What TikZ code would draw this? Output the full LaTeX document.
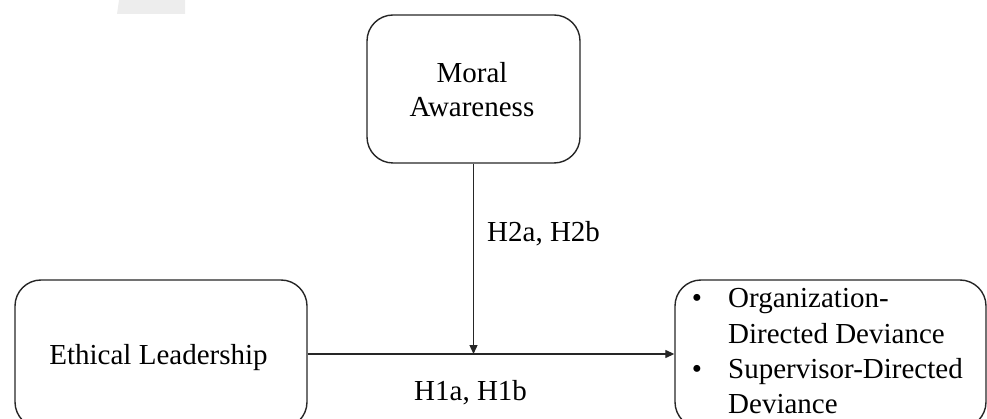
\documentclass[tikz,border=0pt]{standalone}
\usepackage{fontspec}
\setmainfont{Liberation Serif}
\usetikzlibrary{arrows.meta}
\begin{document}
\begin{tikzpicture}[x=1pt,y=-1pt,
  box/.style={draw=black!85,line width=1.4pt,rounded corners=26pt,rectangle,inner sep=0pt},
  lbl/.style={font=\fontsize{29}{34}\selectfont,inner sep=0pt},
  conn/.style={draw=black!85,line width=1.3pt,-{Triangle[length=9pt,width=8pt]}}]
\useasboundingbox (0,0) rectangle (987,419);
\fill[black!7] (119,0) -- (185,0) -- (185,14) -- (117,14) -- cycle;
% boxes
\node[box,minimum width=213pt,minimum height=148pt] (ma) at (473.5,89) {};
\node[box,minimum width=292pt,minimum height=148pt] (el) at (161,354) {};
\node[box,minimum width=311pt,minimum height=148pt] (od) at (830.5,354) {};
% texts
\node[lbl,anchor=base] (t1) at (472,83) {Moral};
\node[lbl,anchor=base] (t2) at (472,117) {Awareness};
\node[lbl,anchor=base] (t3) at (158.5,364) {Ethical Leadership};
\node[lbl,anchor=base] (b1) at (697,308) {•};
\node[lbl,anchor=base west] (o1) at (728,308) {Organization-};
\node[lbl,anchor=base west] (o2) at (728,343) {Directed Deviance};
\node[lbl,anchor=base] (b2) at (697,378) {•};
\node[lbl,anchor=base west] (o3) at (728,378) {Supervisor-Directed};
\node[lbl,anchor=base west] (o4) at (728,413) {Deviance};
\node[lbl,anchor=base west] (h2) at (487,242) {H2a, H2b};
\node[lbl,anchor=base west] (h1) at (414,400) {H1a, H1b};
% connectors
\coordinate (j) at (ma.south |- el.east);
\draw[conn] (el.east) -- (od.west);
\draw[conn] (ma.south) -- (j);
\end{tikzpicture}
\end{document}
